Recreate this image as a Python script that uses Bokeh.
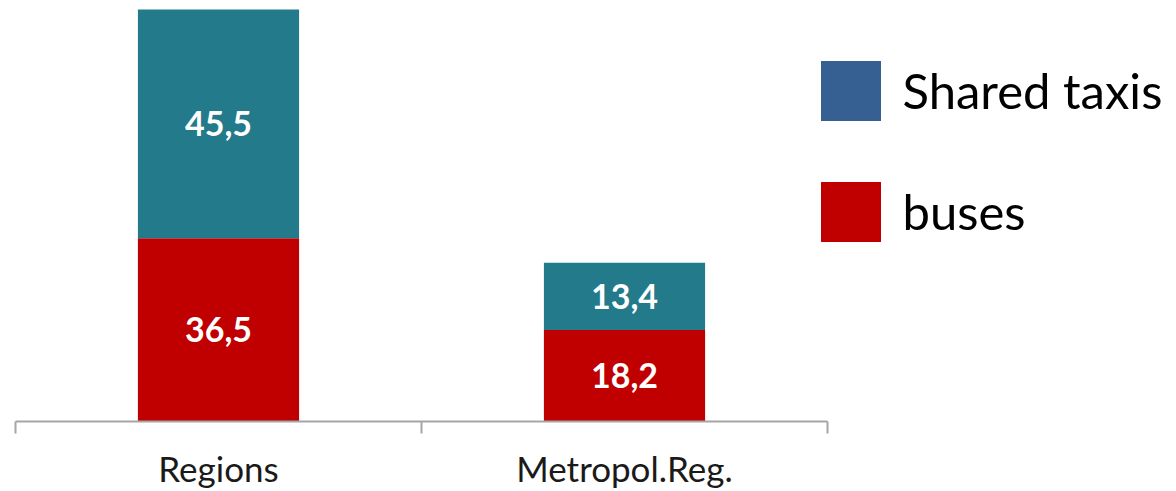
from bokeh.plotting import figure
from bokeh.models import (Range1d, LinearAxis, FixedTicker,
                          ColumnDataSource, Legend, LegendItem)
from bokeh.core.properties import value
from bokeh.embed import file_html
from bokeh.resources import INLINE

# Data
regions = ["Regions", "Metropol.Reg."]
buses = [36.5, 18.2]
shared_taxis = [45.5, 13.4]
series_names = ["Shared taxis", "buses"]

# Styling
BUS_RED = "#C00000"
TAXI_TEAL = "#237A8B"
TAXI_KEY_BLUE = "#376092"
AXIS_GREY = "#A6A6A6"
FONT = "Lato"

# Each category occupies one unit slot: slot i spans [i, i+1], centred at i+0.5.
# The frame runs on past the last slot to leave room for the legend.
n = len(regions)
centers = [i + 0.5 for i in range(n)]
SLOT_PX = 406
FRAME_W = 1176 - 15

p = figure(width=1176, height=491,
           x_range=Range1d(0, FRAME_W / SLOT_PX), y_range=Range1d(0, 83.8),
           output_backend="svg", toolbar_location=None,
           x_axis_location=None, y_axis_location=None,
           min_border_left=15, min_border_right=0,
           min_border_top=0, min_border_bottom=69)
p.outline_line_color = None
p.background_fill_color = "white"
p.grid.grid_line_color = None

# Stacked bars
src = ColumnDataSource(dict(x=centers, region=regions, buses=buses, taxis=shared_taxis))
p.vbar_stack(["buses", "taxis"], x="x", width=0.397, source=src,
             fill_color=[BUS_RED, TAXI_TEAL], line_color=None)

# Value labels in the middle of each segment
def fmt(v):
    return f"{v:.1f}".replace(".", ",")

bus_mid = [b / 2 for b in buses]
taxi_mid = [b + t / 2 for b, t in zip(buses, shared_taxis)]
labels = ColumnDataSource(dict(
    x=centers + centers,
    y=bus_mid + taxi_mid,
    text=[fmt(v) for v in buses + shared_taxis],
))
p.text(x="x", y="y", text="text", source=labels, text_color="white",
       text_font=value(FONT), text_font_style="bold", text_font_size="34px",
       text_align="center", text_baseline="middle")

# Category axis: names under slot centres, tick marks on slot boundaries
x_axis = LinearAxis(ticker=FixedTicker(ticks=centers, minor_ticks=list(range(n + 1))),
                    bounds=(0, n),
                    major_label_overrides={c: r for c, r in zip(centers, regions)},
                    axis_line_color=AXIS_GREY, axis_line_width=2,
                    major_tick_line_color=None, major_tick_in=0, major_tick_out=0,
                    minor_tick_line_color=AXIS_GREY, minor_tick_line_width=2,
                    minor_tick_in=0, minor_tick_out=12,
                    major_label_text_font=FONT,
                    major_label_text_font_size="35px",
                    major_label_text_color="#1a1a1a",
                    major_label_standoff=13)
p.add_layout(x_axis, "below")

# Legend keys: zero-width bars that only lend their fill to the legend
taxi_key = p.vbar(x=centers[:1], top=shared_taxis[:1], width=0,
                  fill_color=TAXI_KEY_BLUE, line_color=None)
bus_key = p.vbar(x=centers[:1], top=buses[:1], width=0,
                 fill_color=BUS_RED, line_color=None)
legend = Legend(items=[LegendItem(label=series_names[0], renderers=[taxi_key]),
                       LegendItem(label=series_names[1], renderers=[bus_key])],
                location=(797.5, 172.5), glyph_width=75, glyph_height=75,
                spacing=46, label_standoff=15, padding=0, margin=0,
                border_line_color=None, background_fill_alpha=0,
                label_text_font=FONT, label_text_font_size="49px",
                label_text_color="black")
p.add_layout(legend, "center")

open("out.html", "w").write(file_html(p, INLINE))
